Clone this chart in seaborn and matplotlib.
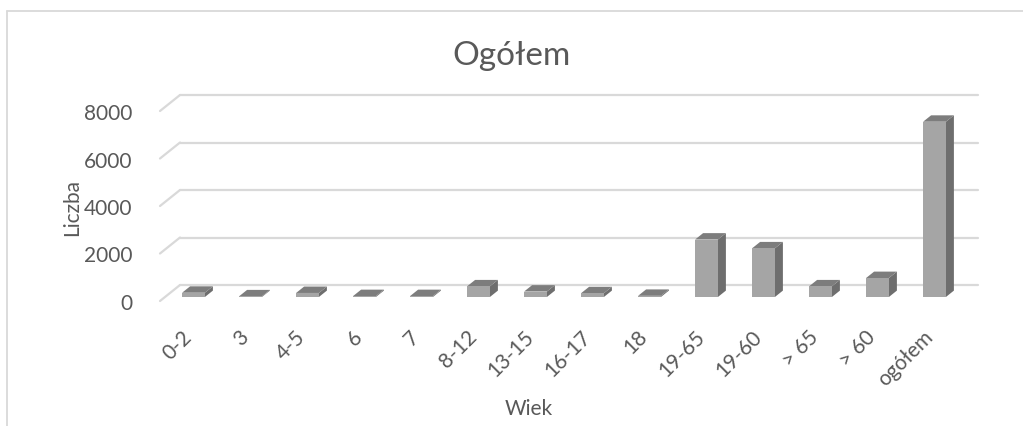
import matplotlib
matplotlib.use('Agg')
import matplotlib.pyplot as plt
import seaborn as sns
from matplotlib.patches import Polygon
from matplotlib.lines import Line2D

ages = ['0-2', '3', '4-5', '6', '7', '8-12', '13-15', '16-17', '18',
        '19-65', '19-60', '> 65', '> 60', 'ogółem']
counts = [180, 30, 170, 40, 40, 450, 230, 160, 50, 2420, 2050, 450, 800, 7380]
yticks = [0, 2000, 4000, 6000, 8000]

sns.set_style('white')
plt.rcParams['font.family'] = ['Lato', 'DejaVu Sans']
txt = '#595959'
grid = '#d9d9d9'

W, H = 1023, 427
fig = plt.figure(figsize=(W / 100, H / 100), dpi=100)
# front plane of the 3d box
left, right, bottom, top = 160, 958, 302, 112
ax = fig.add_axes([left / W, 1 - bottom / H, (right - left) / W, (bottom - top) / H])
ax.set_xlim(-0.5, len(ages) - 0.5)
ax.set_ylim(0, 8000)

# depth offset of the back wall, in pixels -> data units
DX, DY = 20, 16
ppx = (right - left) / len(ages)
ppy = (bottom - top) / 8000
ddx, ddy = DX / ppx, DY / ppy

# back wall grid + left floor/wall diagonals
for t in yticks:
    ax.add_line(Line2D([-0.5 + ddx, len(ages) - 0.5 + ddx], [t + ddy, t + ddy],
                       color=grid, lw=1.6, clip_on=False, zorder=0))
    ax.add_line(Line2D([-0.5, -0.5 + ddx], [t, t + ddy],
                       color=grid, lw=1.6, clip_on=False, zorder=0))

sns.barplot(x=ages, y=counts, color='#a5a5a5', saturation=1, width=0.4, ax=ax,
            edgecolor='none', zorder=3)

f0, fd = 0.25, 0.4  # bar front depth, bar thickness (fraction of floor depth)
for p in ax.patches:
    p.set_x(p.get_x() + f0 * ddx)
    p.set_y(p.get_y() + f0 * ddy)
    p.set_clip_on(False)
    x0, x1 = p.get_x(), p.get_x() + p.get_width()
    y0, y1 = p.get_y(), p.get_y() + p.get_height()
    bx, by = fd * ddx, fd * ddy
    ax.add_patch(Polygon([(x1, y0), (x1 + bx, y0 + by), (x1 + bx, y1 + by), (x1, y1)],
                         closed=True, fc='#6e6e6e', ec='none', zorder=2, clip_on=False))
    ax.add_patch(Polygon([(x0, y1), (x1, y1), (x1 + bx, y1 + by), (x0 + bx, y1 + by)],
                         closed=True, fc='#7d7d7d', ec='none', zorder=2, clip_on=False))

sns.despine(ax=ax, left=True, bottom=True)
ax.set_yticks(yticks)
ax.set_yticklabels([str(t) for t in yticks], fontsize=15, color=txt)
ax.tick_params(axis='y', length=0, pad=20)
ax.set_xticks(range(len(ages)))
ax.set_xticklabels(ages, fontsize=15, color=txt, rotation=45,
                   ha='right', va='center', rotation_mode='anchor')
ax.tick_params(axis='x', length=0, pad=23)
ax.set_xlabel('Wiek', fontsize=15, color=txt)
ax.xaxis.set_label_coords(0.462, -0.51)
ax.set_ylabel('Liczba', fontsize=15, color=txt)
ax.yaxis.set_label_coords(-0.097, 0.5)

fig.text(0.5, 1 - 56 / H, 'Ogółem', ha='center', va='center', fontsize=24, color=txt)

# chart area border
fig.add_artist(Line2D([6.5 / W, 6.5 / W], [0, 1 - 12 / H], color=grid, lw=1.3))
fig.add_artist(Line2D([6.5 / W, 1], [1 - 12 / H, 1 - 12 / H], color=grid, lw=1.3))

fig.savefig('out.png', dpi=100, facecolor='white')
